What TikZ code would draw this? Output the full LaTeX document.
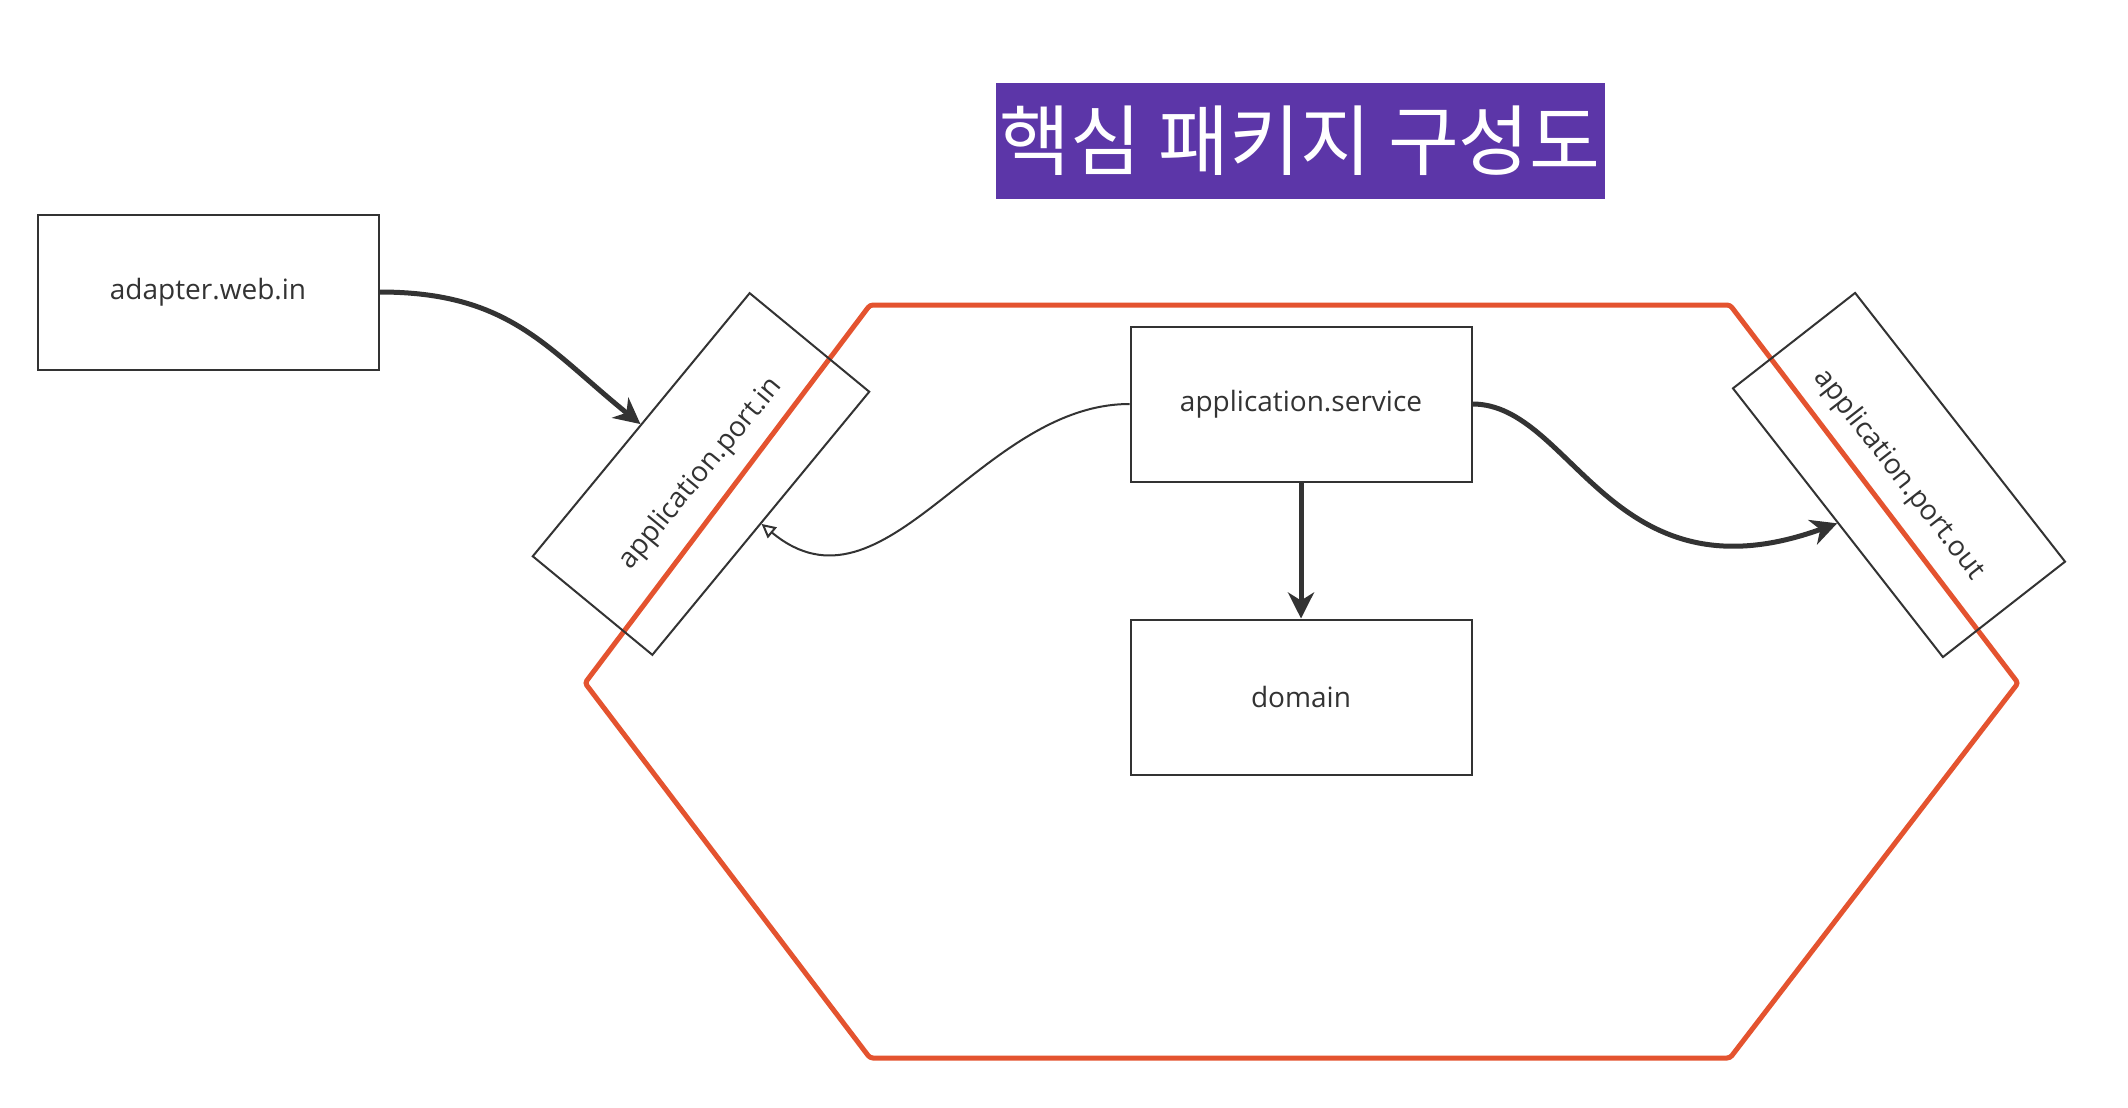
\documentclass[tikz,border=0pt]{standalone}
\usepackage{fontspec}
\setmainfont{Open Sans}
\newfontfamily\krfont{Noto Sans CJK KR}
\usetikzlibrary{arrows.meta}
\definecolor{hexred}{HTML}{E4532F}
\definecolor{titlebg}{HTML}{5C36A8}
\definecolor{ink}{HTML}{333333}
\begin{document}
\begin{tikzpicture}[x=1pt,y=-1pt,
  box/.style={draw=ink, line width=2pt, minimum width=341pt, minimum height=155pt, inner sep=0pt, font=\fontsize{28}{34}\selectfont, text=ink},
  thickarrow/.style={draw=ink, line width=5pt, -{Stealth[length=26pt,width=26pt,inset=8pt]}},
  thinarrow/.style={draw=ink, line width=2pt, -{Triangle[open,length=14pt,width=14pt]}},
  hexline/.style={draw=hexred, line width=5pt, rounded corners=3pt}]
\useasboundingbox (0,0) rectangle (2128,1108);
\fill[white] (0,0) rectangle (2128,1108);
\draw[hexline] (870,305) -- (1730,305) -- (2018,683) -- (1730,1058) -- (870,1058) -- (585,683) -- cycle;
\node[fill=titlebg, text=white, minimum width=609pt, minimum height=116pt, inner sep=0pt, font=\krfont\fontsize{77}{80}\selectfont] (title) at (1300,141) {핵심 패키지 구성도};
\node[box, fill=white] (aw) at (208,292) {adapter.web.in};
\node[box, fill=white] (svc) at (1301,404) {application.service};
\node[box, fill=white] (dom) at (1301,697) {domain};
\node[box, rotate=50.5] (pin) at (701,474) {application.port.in};
\node[box, rotate=-52] (pout) at (1899,475) {application.port.out};
\draw[thickarrow] (aw.east) .. controls +(130,0) and +(-94,-76) .. (pin.north);
\draw[thinarrow] (svc.west) .. controls +(-150,0) and +(123,102) .. (pin.south);
\draw[thickarrow] (svc.east) .. controls +(100,0) and +(-226,82) .. (pout.south);
\draw[thickarrow] (svc.south) -- (dom.north);
\end{tikzpicture}
\end{document}
